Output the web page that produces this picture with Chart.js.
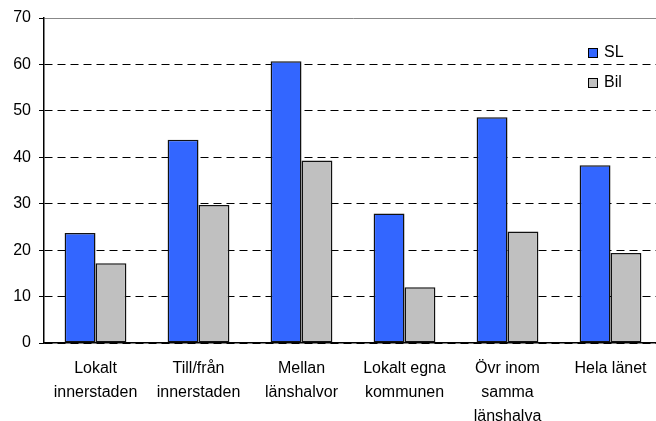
<!DOCTYPE html>
<html>
<head>
<meta charset="utf-8">
<script src="https://cdn.jsdelivr.net/npm/chart.js@4/dist/chart.umd.min.js"></script>
<style>
    html, body { margin: 0; padding: 0; background: #fff; overflow: hidden; }
    #wrap { width: 662px; height: 421px; position: relative; }
</style>
</head>
<body>
<div id="wrap"><canvas id="resaChart"></canvas></div>
<script>
// Kategorier och värden
const categories = [
    ['Lokalt', 'innerstaden'],
    ['Till/från', 'innerstaden'],
    ['Mellan', 'länshalvor'],
    ['Lokalt egna', 'kommunen'],
    ['Övr inom', 'samma', 'länshalva'],
    ['Hela länet']
];
const slValues = [23.7, 43.8, 60.7, 27.9, 48.6, 38.3];
const bilValues = [17.2, 29.7, 39.3, 12.0, 24.0, 19.4];
const yTicks = [0, 10, 20, 30, 40, 50, 60, 70];

const FONT = 'Arial, "Liberation Sans", sans-serif';

// Legend inne i diagrammet, uppe till höger
const insideLegend = {
    id: 'insideLegend',
    afterDraw(chart) {
        const ctx = chart.ctx;
        ctx.save();
        ctx.font = '16px ' + FONT;
        ctx.textBaseline = 'middle';
        ctx.textAlign = 'left';
        chart.data.datasets.forEach((ds, i) => {
            const y = 48 + i * 30;
            ctx.fillStyle = ds.backgroundColor;
            ctx.fillRect(588.5, y + 0.5, 9, 9);
            ctx.strokeStyle = '#000';
            ctx.lineWidth = 1;
            ctx.strokeRect(588.5, y + 0.5, 9, 9);
            ctx.fillStyle = '#000';
            ctx.fillText(ds.label, 604, y + 5);
        });
        ctx.restore();
    }
};

const ctx = document.getElementById('resaChart').getContext('2d');

new Chart(ctx, {
    type: 'bar',
    data: {
        labels: categories,
        datasets: [
            {
                label: 'SL',
                data: slValues,
                backgroundColor: '#3366FF',
                borderColor: '#111',
                borderWidth: 1.5,
                borderSkipped: false,
                categoryPercentage: 0.6,
                barPercentage: 1.0
            },
            {
                label: 'Bil',
                data: bilValues,
                backgroundColor: '#C0C0C0',
                borderColor: '#111',
                borderWidth: 1.5,
                borderSkipped: false,
                categoryPercentage: 0.6,
                barPercentage: 1.0
            }
        ]
    },
    options: {
        responsive: true,
        maintainAspectRatio: false,
        animation: false,
        layout: { padding: { top: 18, right: 0, left: 0, bottom: 0 } },
        scales: {
            x: {
                grid: { display: false, drawTicks: false },
                border: { display: true, color: '#000', width: 1.5 },
                ticks: {
                    color: '#000',
                    padding: 14,
                    maxRotation: 0,
                    autoSkip: false,
                    font: { family: FONT, size: 16, lineHeight: 1.5 }
                },
                afterFit(scale) { scale.height = 78; }
            },
            y: {
                min: 0,
                max: 70,
                afterBuildTicks(scale) {
                    scale.ticks = yTicks.map(v => ({ value: v }));
                },
                grid: {
                    color: c => (c.tick && c.tick.value === 70) ? '#888' : '#000',
                    lineWidth: 1,
                    tickLength: 5,
                    tickColor: '#000'
                },
                border: {
                    display: true,
                    color: '#000',
                    width: 1.5,
                    dash: c => (c.tick && c.tick.value === 70) ? [] : [8, 5]
                },
                ticks: {
                    color: '#000',
                    padding: 8,
                    font: { family: FONT, size: 16 }
                },
                afterFit(scale) { scale.width = 44; }
            }
        },
        plugins: {
            legend: { display: false },
            tooltip: { enabled: false }
        }
    },
    plugins: [insideLegend]
});
</script>
</body>
</html>
